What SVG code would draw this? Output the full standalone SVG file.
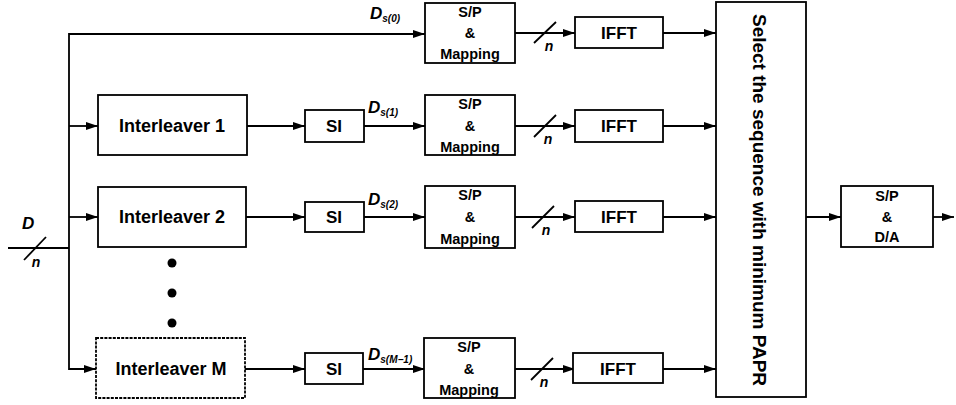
<svg xmlns="http://www.w3.org/2000/svg" width="956" height="405" viewBox="0 0 956 405">
<defs>
<marker id="arr" markerUnits="userSpaceOnUse" markerWidth="13" markerHeight="9" refX="12" refY="4" orient="auto">
<path d="M0,0 L12,4 L0,8 z" fill="#000"/>
</marker>
<style>
.box{fill:#fff;stroke:#000;stroke-width:1.8}
.dash{stroke-dasharray:3 1.2}
.ln{fill:none;stroke:#000;stroke-width:1.8}
.arw{fill:none;stroke:#000;stroke-width:1.8;marker-end:url(#arr)}
.big{font-family:"Liberation Sans",Arial,sans-serif;font-weight:bold;font-size:18px;text-anchor:middle}
.mid{font-family:"Liberation Sans",Arial,sans-serif;font-weight:bold;font-size:17px;text-anchor:middle}
.sm{font-family:"Liberation Sans",Arial,sans-serif;font-weight:bold;font-size:14.5px;text-anchor:middle}
.lab{font-family:"Liberation Sans",Arial,sans-serif;font-style:italic;font-weight:bold;font-size:17px}
.sub{font-family:"Liberation Sans",Arial,sans-serif;font-style:italic;font-weight:bold;font-size:10px}
.n{font-family:"Liberation Sans",Arial,sans-serif;font-style:italic;font-weight:bold;font-size:14px;text-anchor:middle}
</style>
</defs>
<rect width="956" height="405" fill="#fff"/>

<g id="connectors">
<line class="ln" x1="8" y1="248" x2="69" y2="248"/>
<line class="ln" x1="24" y1="260" x2="46" y2="237"/>
<polyline class="arw" points="69,248 69,34 425,34"/>
<polyline class="arw" points="69,248 69,369 96,369"/>
<line class="arw" x1="69" y1="126" x2="98" y2="126"/>
<line class="arw" x1="69" y1="217" x2="98" y2="217"/>
<line class="arw" x1="247" y1="126" x2="305" y2="126"/>
<line class="arw" x1="246" y1="217" x2="305" y2="217"/>
<line class="arw" x1="245" y1="369" x2="305" y2="369"/>
<line class="arw" x1="364" y1="126" x2="425" y2="126"/>
<line class="arw" x1="364" y1="217" x2="425" y2="217"/>
<line class="arw" x1="363" y1="369" x2="425" y2="369"/>
<line class="arw" x1="515" y1="33" x2="575" y2="33"/>
<line class="arw" x1="515" y1="126" x2="575" y2="126"/>
<line class="arw" x1="515" y1="217" x2="575" y2="217"/>
<line class="arw" x1="515" y1="369" x2="575" y2="369"/>
<line class="ln" x1="534" y1="43" x2="556" y2="22"/>
<line class="ln" x1="534" y1="137" x2="556" y2="115"/>
<line class="ln" x1="532" y1="228" x2="554" y2="206"/>
<line class="ln" x1="531" y1="380" x2="553" y2="358"/>
<line class="arw" x1="663" y1="33" x2="716" y2="33"/>
<line class="arw" x1="663" y1="126" x2="716" y2="126"/>
<line class="arw" x1="663" y1="217" x2="716" y2="217"/>
<line class="arw" x1="663" y1="369" x2="716" y2="369"/>
<line class="arw" x1="806" y1="217" x2="841" y2="217"/>
<line class="arw" x1="933" y1="217" x2="954" y2="217"/>
</g>

<g id="labels">
<text class="lab" x="22" y="229">D</text>
<text class="n" x="36" y="267">n</text>
<text class="lab" x="370" y="19">D<tspan class="sub" dy="3">s(0)</tspan></text>
<text class="lab" x="368" y="113">D<tspan class="sub" dy="3">s(1)</tspan></text>
<text class="lab" x="368" y="205">D<tspan class="sub" dy="3">s(2)</tspan></text>
<text class="lab" x="368" y="360">D<tspan class="sub" dy="3">s(M−1)</tspan></text>
<text class="n" x="549" y="51">n</text>
<text class="n" x="548" y="144">n</text>
<text class="n" x="546" y="235">n</text>
<text class="n" x="544" y="387">n</text>
</g>

<g id="dots">
<circle cx="172" cy="263" r="4.5"/>
<circle cx="172" cy="293" r="4.5"/>
<circle cx="172" cy="323" r="4.5"/>
</g>

<g id="interleaver1"><rect class="box" x="98" y="95" width="149" height="60"/><text class="big" x="172" y="132">Interleaver 1</text></g>
<g id="interleaver2"><rect class="box" x="98" y="187" width="148" height="60"/><text class="big" x="172" y="223">Interleaver 2</text></g>
<g id="interleaverM"><rect class="box dash" x="96" y="338" width="149" height="60"/><text class="big" x="171" y="375">Interleaver M</text></g>

<g id="si1"><rect class="box" x="305" y="110" width="59" height="32"/><text class="mid" x="334" y="132">SI</text></g>
<g id="si2"><rect class="box" x="305" y="202" width="59" height="30"/><text class="mid" x="334" y="223">SI</text></g>
<g id="siM"><rect class="box" x="305" y="353" width="58" height="31"/><text class="mid" x="334" y="375">SI</text></g>

<g id="spmap0"><rect class="box" x="425" y="3" width="90" height="60"/><text class="sm" x="470" y="17">S/P</text><text class="sm" x="470" y="38">&amp;</text><text class="sm" x="470" y="59">Mapping</text></g>
<g id="spmap1"><rect class="box" x="425" y="95" width="90" height="60"/><text class="sm" x="470" y="109">S/P</text><text class="sm" x="470" y="131">&amp;</text><text class="sm" x="470" y="152">Mapping</text></g>
<g id="spmap2"><rect class="box" x="425" y="186" width="90" height="62"/><text class="sm" x="470" y="200">S/P</text><text class="sm" x="470" y="222">&amp;</text><text class="sm" x="470" y="244">Mapping</text></g>
<g id="spmapM"><rect class="box" x="424" y="338" width="91" height="60"/><text class="sm" x="469" y="352">S/P</text><text class="sm" x="469" y="374">&amp;</text><text class="sm" x="469" y="395">Mapping</text></g>

<g id="ifft0"><rect class="box" x="575" y="17" width="88" height="31"/><text class="mid" x="619" y="39">IFFT</text></g>
<g id="ifft1"><rect class="box" x="575" y="110" width="88" height="32"/><text class="mid" x="619" y="132">IFFT</text></g>
<g id="ifft2"><rect class="box" x="575" y="201" width="88" height="31"/><text class="mid" x="619" y="223">IFFT</text></g>
<g id="ifftM"><rect class="box" x="573" y="353" width="90" height="30"/><text class="mid" x="618" y="375">IFFT</text></g>

<g id="select"><rect class="box" x="716" y="2" width="90" height="395"/><text class="big" transform="translate(753,200) rotate(90)" x="0" y="0" textLength="372" lengthAdjust="spacingAndGlyphs">Select the sequence with minimum PAPR</text></g>

<g id="spda"><rect class="box" x="841" y="186" width="92" height="61"/><text class="sm" x="887" y="201">S/P</text><text class="sm" x="887" y="222">&amp;</text><text class="sm" x="887" y="242">D/A</text></g>
</svg>
